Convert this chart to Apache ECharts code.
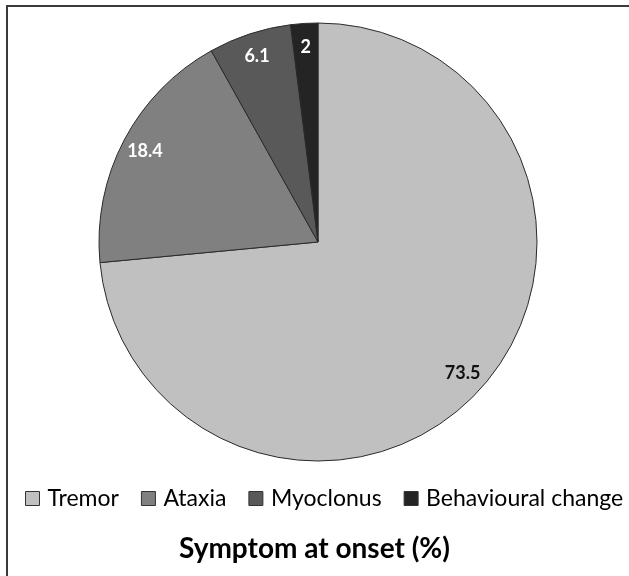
<!DOCTYPE html>
<html>
<head>
<meta charset="utf-8">
<script src="https://cdn.jsdelivr.net/npm/echarts@6/dist/echarts.min.js"></script>
<style>
  html, body { margin: 0; padding: 0; background: #fff; }
  #chart { width: 629px; height: 576px; }
</style>
</head>
<body>
<div id="chart"></div>
<script>
// 数据
const symptoms = ['Tremor', 'Ataxia', 'Myoclonus', 'Behavioural change']
const percents = [73.5, 18.4, 6.1, 2]
const sliceColors = ['#c0c0c0', '#808080', '#595959', '#242424']
const labelColors = ['#111', '#fff', '#fff', '#fff']

const chart = echarts.init(document.getElementById('chart'))

const pieData = symptoms.map((name, i) => ({
  name,
  value: percents[i],
  itemStyle: { color: sliceColors[i] }
}))

// 透明圆环只用来放标签（标签落在约 0.875R 处）
const labelData = symptoms.map((name, i) => ({
  name,
  value: percents[i],
  label: { color: labelColors[i] }
}))

const option = {
  animation: false,
  title: {
    text: 'Symptom at onset (%)',
    left: 'center',
    top: 530,
    textStyle: { fontFamily: 'Lato', fontWeight: 'bold', fontSize: 28, color: '#000' }
  },
  legend: {
    data: symptoms,
    left: 20,
    width: 625,
    top: 482,
    itemWidth: 14,
    itemHeight: 14,
    itemGap: 22,
    icon: 'rect',
    itemStyle: { borderColor: '#333', borderWidth: 1 },
    textStyle: { fontFamily: 'Lato', fontSize: 23, color: '#000', padding: [0, 0, 0, 3] }
  },
  graphic: [{
    type: 'rect',
    shape: { x: 7, y: 6, width: 700, height: 700 },
    style: { fill: 'none', stroke: '#3a3a3a', lineWidth: 2 },
    silent: true
  }],
  series: [
    {
      type: 'pie',
      center: [318, 242],
      radius: [0, 219],
      startAngle: 90,
      clockwise: true,
      silent: true,
      label: { show: false },
      labelLine: { show: false },
      itemStyle: { borderColor: '#2a2a2a', borderWidth: 1 },
      emphasis: { disabled: true },
      data: pieData
    },
    {
      type: 'pie',
      center: [318, 242],
      radius: [166, 219],
      startAngle: 90,
      clockwise: true,
      silent: true,
      itemStyle: { color: 'rgba(0,0,0,0)', borderWidth: 0 },
      label: {
        show: true,
        position: 'inside',
        formatter: '{c}',
        fontFamily: 'Lato',
        fontWeight: 'bold',
        fontSize: 18
      },
      labelLine: { show: false },
      emphasis: { disabled: true },
      data: labelData
    }
  ]
}

chart.setOption(option)
</script>
</body>
</html>
